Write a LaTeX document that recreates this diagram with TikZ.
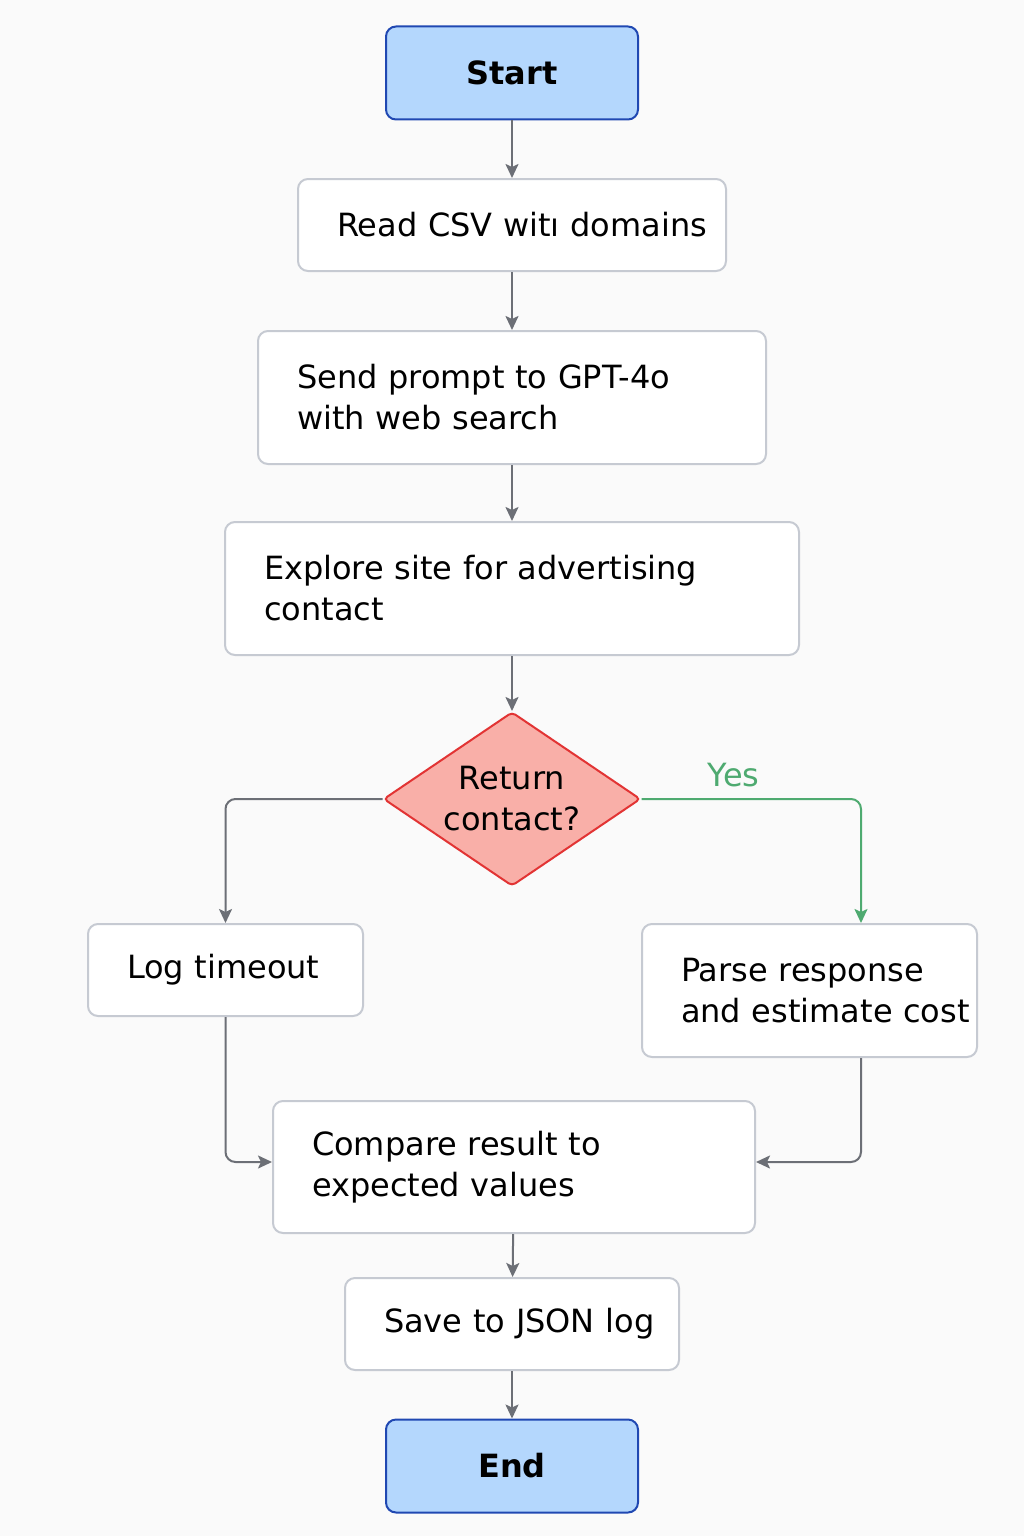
\documentclass[tikz,border=0pt]{standalone}
\usepackage{fontspec}
\setmainfont{DejaVu Sans}
\usepackage{tikz}
\usetikzlibrary{arrows.meta,shapes.geometric}
\definecolor{pagebg}{RGB}{250,250,250}
\definecolor{termfill}{RGB}{180,215,253}
\definecolor{termline}{RGB}{32,72,178}
\definecolor{boxline}{RGB}{198,202,210}
\definecolor{decfill}{RGB}{249,175,168}
\definecolor{decline}{RGB}{226,52,52}
\definecolor{flowgray}{RGB}{108,111,118}
\definecolor{yesgreen}{RGB}{78,170,112}

\begin{document}
\begin{tikzpicture}[x=0.5pt,y=-0.5pt,
  every node/.style={font=\fontsize{16}{20.5}\selectfont},
  term/.style={draw=termline,fill=termfill,line width=1pt,rounded corners=5pt,
               minimum width=126pt,minimum height=46.5pt,font=\fontsize{16}{20.5}\selectfont\bfseries},
  proc/.style={draw=boxline,fill=white,line width=1pt,rounded corners=5pt,
               align=left,inner xsep=19.5pt,inner ysep=0pt},
  dec/.style={diamond,draw=decline,fill=decfill,line width=1pt,rounded corners=2pt,aspect=1.48,
              minimum width=128.5pt,minimum height=87pt,inner sep=0pt,align=center},
  flow/.style={-{Stealth[length=7pt,width=6.5pt,inset=1.5pt]},flowgray,line width=1pt,rounded corners=5pt},
  yes/.style={flow,yesgreen}]
\fill[pagebg] (0,0) rectangle (1024,1536);
% top column
\node[term] (start) at (512,73) {Start};
\node[proc,text width=175pt,minimum height=46pt] (csv) at (512,225) {\mbox{Read CSV wit\i{} domains}};
\node[proc,text width=215pt,minimum height=66.5pt] (send) at (512,397.5) {\mbox{Send prompt to GPT-4o}\\with web search};
\node[proc,text width=248pt,minimum height=66.5pt] (explore) at (512,588.5) {\mbox{Explore site for advertising}\\contact};
\node[dec] (ret) at (512,799) {Return\\contact?};
% branches
\node[proc,text width=98.5pt,minimum height=46pt] (log) at (225.5,970) {\mbox{Log timeout}};
\node[proc,text width=128.5pt,minimum height=66.5pt] (parse) at (809.5,990.5) {\mbox{Parse response}\\\mbox{and estimate cost}};
\node[proc,text width=202pt,minimum height=66pt] (cmp) at (514,1167) {\mbox{Compare result to}\\\mbox{expected values}};
\node[proc,text width=128pt,minimum height=46pt] (save) at (512,1324) {\mbox{Save to JSON log}};
\node[term] (end) at (512,1466) {End};
\draw[flow] (start) -- (csv);
\draw[flow] (csv) -- (send);
\draw[flow] (send) -- (explore);
\draw[flow] (explore) -- (ret);
\draw[flow] (ret.west) -| (log.north);
\draw[yes] (ret.east) -| ([xshift=25.75pt]parse.north)
  node[pos=0.21,above=2pt,text=yesgreen] (yeslbl) {Yes};
\draw[flow] (log.south) |- ([yshift=2.5pt]cmp.west);
\draw[flow] ([xshift=25.75pt]parse.south) |- ([yshift=2.5pt]cmp.east);
\draw[flow] (cmp) -- (save);
\draw[flow] (save) -- (end);
\end{tikzpicture}
\end{document}
